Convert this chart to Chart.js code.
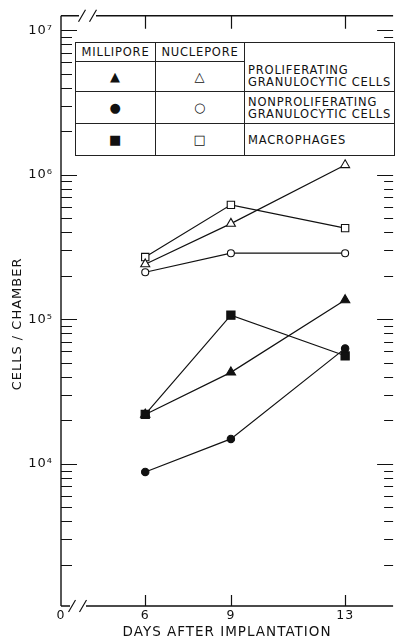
<!DOCTYPE html>
<html>
<head>
<meta charset="utf-8">
<title>Cells per chamber after implantation</title>
<script src="https://cdn.jsdelivr.net/npm/chart.js@4.4.1/dist/chart.umd.min.js"></script>
<style>
  html, body { margin: 0; padding: 0; background: #fff; }
  #wrap { position: relative; width: 400px; height: 642px; }
  #chart { position: absolute; left: 0; top: 0; }
  #key {
    position: absolute; left: 75px; top: 42px; width: 319px;
    border-collapse: collapse; table-layout: fixed; background: #fff;
    font-family: "DejaVu Sans", sans-serif; font-size: 11.5px; letter-spacing: 0.8px;
    color: #111; line-height: 12px;
  }
  #key td { border: 1px solid #222; padding: 0; text-align: center; white-space: nowrap; }
  #key td.lbl { text-align: left; padding-left: 3px; }
  #key tr.head td.lbl { border-bottom: hidden; }
  #key .sym { font-size: 13px; }
</style>
</head>
<body>
<div id="wrap">
  <canvas id="chart" width="400" height="642"></canvas>
  <table id="key">
    <colgroup><col style="width:80px"><col style="width:89px"><col style="width:150px"></colgroup>
    <tbody id="keyBody"></tbody>
  </table>
</div>
<script>
// ---- data ----
const days = [6, 9, 13];
const milliporeProliferating = [22000, 43000, 136000];
const milliporeNonproliferating = [8800, 14900, 63000];
const milliporeMacrophages = [22000, 107000, 56000];
const nucleporeProliferating = [241000, 460000, 1170000];
const nucleporeNonproliferating = [212000, 287000, 287000];
const nucleporeMacrophages = [270000, 620000, 428000];

const xTickDays = [6, 9, 13];
const xOriginLabel = '0';
const yDecades = [1e4, 1e5, 1e6, 1e7];
const yDecadeLabels = ['10\u2074', '10\u2075', '10\u2076', '10\u2077'];
const xTitle = 'DAYS AFTER IMPLANTATION';
const yTitle = 'CELLS / CHAMBER';

const keyHeaders = ['MILLIPORE', 'NUCLEPORE'];
const keyLabels = [
  ['PROLIFERATING', 'GRANULOCYTIC CELLS'],
  ['NONPROLIFERATING', 'GRANULOCYTIC CELLS'],
  ['MACROPHAGES']
];
const keySymbols = [['\u25B2', '\u25B3'], ['\u25CF', '\u25CB'], ['\u25A0', '\u25A1']];

// ---- key table ----
function buildKey() {
  const body = document.getElementById('keyBody');
  let html = `<tr class="head" style="height:19px"><td>${keyHeaders[0]}</td><td>${keyHeaders[1]}</td><td class="lbl"></td></tr>`;
  const heights = [30, 32, 32];
  keyLabels.forEach((lines, i) => {
    html += `<tr style="height:${heights[i]}px">
      <td class="sym">${keySymbols[i][0]}</td>
      <td class="sym">${keySymbols[i][1]}</td>
      <td class="lbl">${lines.join('<br>')}</td>
    </tr>`;
  });
  body.innerHTML = html;
}

// ---- helpers ----
const toPoints = vals => days.map((d, i) => ({ x: d, y: vals[i] }));

function series(vals, style, radius, filled) {
  return {
    data: toPoints(vals),
    borderColor: '#111',
    borderWidth: 1.2,
    pointStyle: style,
    pointRadius: radius,
    pointBorderWidth: 1.1,
    pointBorderColor: '#111',
    pointBackgroundColor: filled ? '#111' : '#fff',
    fill: false,
    tension: 0
  };
}

// frame, broken axes, inward ticks and the vertical title
const axisFrame = {
  id: 'axisFrame',
  beforeDraw(chart) { chart.ctx.letterSpacing = '1px'; },
  beforeDatasetsDraw(chart) {
    const { ctx, chartArea: a, scales: { x, y } } = chart;
    ctx.save();
    ctx.strokeStyle = '#111';
    ctx.lineWidth = 1.4;
    ctx.beginPath();
    ctx.moveTo(a.left, a.top); ctx.lineTo(a.left, a.bottom);
    ctx.moveTo(a.left, a.bottom); ctx.lineTo(a.left + 9, a.bottom);
    ctx.moveTo(a.left + 25, a.bottom); ctx.lineTo(a.right, a.bottom);
    ctx.moveTo(a.left, a.top); ctx.lineTo(a.left + 18, a.top);
    ctx.moveTo(a.left + 35, a.top); ctx.lineTo(a.right, a.top);
    ctx.stroke();

    // break marks
    ctx.lineWidth = 1.2;
    ctx.beginPath();
    [[a.left + 11, a.bottom], [a.left + 22, a.bottom], [a.left + 21, a.top], [a.left + 32, a.top]]
      .forEach(([cx, cy]) => { ctx.moveTo(cx - 3.5, cy + 6); ctx.lineTo(cx + 3.5, cy - 6); });
    ctx.stroke();

    ctx.beginPath();
    y.ticks.forEach(t => {
      const py = Math.round(y.getPixelForValue(t.value)) + 0.5;
      const major = yDecades.includes(t.value);
      ctx.moveTo(a.left, py); ctx.lineTo(a.left + (major ? 16 : 11), py);
      ctx.moveTo(a.right, py); ctx.lineTo(a.right - (major ? 16 : 9), py);
    });
    xTickDays.forEach(d => {
      const px = Math.round(x.getPixelForValue(d)) + 0.5;
      ctx.moveTo(px, a.top); ctx.lineTo(px, a.top + 13);
      ctx.moveTo(px, a.bottom); ctx.lineTo(px, a.bottom - 11);
    });
    ctx.stroke();

    // y title sits a little below the middle of the axis in the original
    ctx.translate(18, (a.top + a.bottom) / 2 + 13);
    ctx.rotate(-Math.PI / 2);
    ctx.fillStyle = '#111';
    ctx.font = '13px "DejaVu Sans", sans-serif';
    ctx.textAlign = 'center';
    ctx.textBaseline = 'middle';
    ctx.fillText(yTitle, 0, 0);
    ctx.restore();
  }
};

function drawChart() {
  Chart.defaults.font.family = '"DejaVu Sans", sans-serif';
  Chart.defaults.color = '#111';

  new Chart(document.getElementById('chart'), {
    type: 'line',
    data: {
      datasets: [
        series(milliporeProliferating, 'triangle', 5.4, true),
        series(milliporeNonproliferating, 'circle', 3.7, true),
        series(milliporeMacrophages, 'rect', 5.8, true),
        series(nucleporeProliferating, 'triangle', 5.2, false),
        series(nucleporeNonproliferating, 'circle', 3.5, false),
        series(nucleporeMacrophages, 'rect', 5.2, false)
      ]
    },
    options: {
      responsive: false,
      animation: false,
      layout: { padding: { top: 11, right: 0, left: 0, bottom: 0 } },
      plugins: { legend: { display: false }, tooltip: { enabled: false } },
      scales: {
        x: {
          type: 'linear',
          min: 3.05,
          max: 14.68,
          grid: { display: false, drawTicks: false },
          border: { display: false },
          afterBuildTicks: s => { s.ticks = [s.min, ...xTickDays].map(v => ({ value: v })); },
          afterFit: s => { s.height = 36; },
          ticks: {
            autoSkip: false, maxRotation: 0, padding: 2,
            font: { size: 12.5 },
            callback(v) { return v === this.min ? xOriginLabel : String(v); }
          },
          title: { display: true, text: xTitle, font: { size: 13.5 }, padding: { top: 0, bottom: 1 } }
        },
        y: {
          type: 'logarithmic',
          min: 1040,
          max: 1.26e7,
          grid: { display: false, drawTicks: false },
          border: { display: false },
          afterBuildTicks: s => {
            const ticks = [];
            for (let k = 3; k <= 6; k++) {
              for (let m = 1; m <= 9; m++) {
                const v = m * Math.pow(10, k);
                if (v >= s.min && v <= s.max) ticks.push({ value: v });
              }
            }
            ticks.push({ value: 1e7 });
            s.ticks = ticks;
          },
          afterFit: s => { s.width = 61; },
          ticks: {
            autoSkip: false, padding: 8,
            font: { size: 13 },
            callback(v) {
              const i = yDecades.indexOf(v);
              return i >= 0 ? yDecadeLabels[i] : '';
            }
          },
          title: { display: false }
        }
      }
    },
    plugins: [axisFrame]
  });
}

document.addEventListener('DOMContentLoaded', () => {
  buildKey();
  drawChart();
});
</script>
</body>
</html>
